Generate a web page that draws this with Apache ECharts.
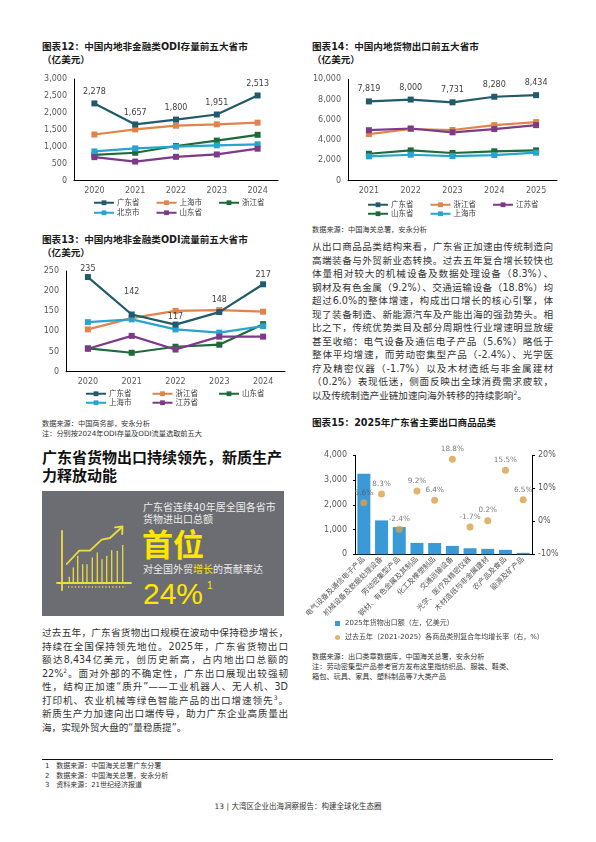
<!DOCTYPE html>
<html><head><meta charset="utf-8">
<script src="https://cdn.jsdelivr.net/npm/echarts@6.0.0/dist/echarts.min.js"></script>
<style>
html,body{margin:0;padding:0;background:#fff;}
body{width:596px;height:842px;position:relative;overflow:hidden;font-family:"DejaVu Sans","Noto Sans CJK SC",sans-serif;color:#333;}
.abs{position:absolute;}
.ttl{position:absolute;font-family:"DejaVu Sans","Noto Sans CJK SC",sans-serif;font-size:9.6px;line-height:12.5px;font-weight:bold;color:#1a1a1a;white-space:nowrap;}
.src{position:absolute;font-size:7.2px;line-height:9.8px;color:#333;white-space:nowrap;}
.para{position:absolute;font-size:9.6px;line-height:13.5px;color:#333;}
.para div{white-space:nowrap;text-align:justify;text-align-last:justify;}
.para div.last{text-align:left;text-align-last:left;}
sup{font-size:6px;line-height:0;vertical-align:4px;}
.chart{position:absolute;}
</style></head><body>

<div class="ttl" style="left:42px;top:41px;">图表12：中国内地非金融类ODI存量前五大省市<br>（亿美元）</div>
<div class="chart" id="c12" style="left:30px;top:70px;width:265px;height:155px;"></div>

<div class="ttl" style="left:42px;top:234px;">图表13：中国内地非金融类ODI流量前五大省市<br>（亿美元）</div>
<div class="chart" id="c13" style="left:30px;top:262px;width:265px;height:150px;"></div>
<div class="src" style="left:42px;top:419px;">数据来源：中国商务部，安永分析<br>注：分别按2024年ODI存量及ODI流量选取前五大</div>

<div class="abs" style="left:42px;top:448px;font-size:15px;line-height:18px;font-weight:bold;color:#111;white-space:nowrap;font-family:'Noto Sans CJK SC',sans-serif;">广东省货物出口持续领先，新质生产<br>力释放动能</div>

<div class="abs" style="left:42px;top:491px;width:242px;height:125px;background:#6c6d72;overflow:hidden;">
  <svg width="242" height="125" style="position:absolute;left:0;top:0;">
    <g stroke="#eedc3e" fill="none" stroke-linecap="round">
      <line x1="20" y1="40" x2="20" y2="99" stroke-width="1.8"/>
      <line x1="15" y1="92" x2="89" y2="92" stroke-width="1.8"/>
      <line x1="26" y1="96" x2="84" y2="96" stroke-width="1.6" stroke-dasharray="1.2,2.2" stroke-linecap="butt"/>
      <g stroke-width="1.3">
        <line x1="27.3" y1="92" x2="27.3" y2="86.3"/>
        <line x1="31.3" y1="92" x2="31.3" y2="77"/>
        <line x1="35.7" y1="92" x2="35.7" y2="65.3"/>
        <line x1="40.7" y1="92" x2="40.7" y2="73.7"/>
        <line x1="45" y1="92" x2="45" y2="73.7"/>
        <line x1="50.3" y1="92" x2="50.3" y2="67"/>
        <line x1="55.3" y1="92" x2="55.3" y2="62"/>
        <line x1="60" y1="92" x2="60" y2="68.7"/>
        <line x1="64.7" y1="92" x2="64.7" y2="65.3"/>
        <line x1="69.7" y1="92" x2="69.7" y2="59.7"/>
        <line x1="75.3" y1="92" x2="75.3" y2="60.3"/>
        <line x1="80.7" y1="92" x2="80.7" y2="54.3"/>
      </g>
      <polyline points="24.7,73 37.3,59.7 48,59.7 59.7,48.7 68,47 80,36" stroke-width="1.8" stroke-linejoin="round"/>
      <polyline points="73,36.3 80.5,35.5 80.2,43" stroke-width="1.8" stroke-linejoin="round"/>
    </g>
  </svg>
  <div class="abs" style="left:101px;top:11px;font-size:10px;line-height:12px;color:#ececec;white-space:nowrap;">广东省连续40年居全国各省市<br>货物进出口总额</div>
  <div class="abs" style="left:100px;top:35px;font-size:31px;line-height:34px;color:#ffe600;font-weight:bold;white-space:nowrap;font-family:'Noto Sans CJK SC',sans-serif;">首位</div>
  <div class="abs" style="left:101px;top:73px;font-size:10px;line-height:12px;color:#ececec;white-space:nowrap;">对全国外贸<span style="color:#ffe600">增长</span>的贡献率达</div>
  <div class="abs" style="left:101px;top:88px;font-size:30px;line-height:30px;color:#ffe600;white-space:nowrap;font-family:'Liberation Sans',sans-serif;">24%</div>
  <div class="abs" style="left:165px;top:89px;font-size:10px;line-height:12px;color:#ffe600;white-space:nowrap;font-family:'Liberation Sans',sans-serif;">1</div>
</div>

<div class="para" style="left:42px;top:626px;width:246px;">
<div>过去五年，广东省货物出口规模在波动中保持稳步增长，</div>
<div>持续在全国保持领先地位。2025年，广东省货物出口</div>
<div>额达8,434亿美元，创历史新高，占内地出口总额的</div>
<div>22%<sup>2</sup>。面对外部的不确定性，广东出口展现出较强韧</div>
<div>性，结构正加速“质升”——工业机器人、无人机、3D</div>
<div>打印机、农业机械等绿色智能产品的出口增速领先<sup>3</sup>。</div>
<div>新质生产力加速向出口端传导，助力广东企业高质量出</div>
<div class="last">海，实现外贸大盘的“量稳质提”。</div>
</div>

<div class="ttl" style="left:312px;top:41px;">图表14：中国内地货物出口前五大省市<br>（亿美元）</div>
<div class="chart" id="c14" style="left:300px;top:70px;width:265px;height:155px;"></div>
<div class="src" style="left:312px;top:225px;">数据来源：中国海关总署，安永分析</div>

<div class="para" style="left:312px;top:240px;width:241px;">
<div>从出口商品品类结构来看，广东省正加速由传统制造向</div>
<div>高端装备与外贸新业态转换。过去五年复合增长较快也</div>
<div>体量相对较大的机械设备及数据处理设备（8.3%）、</div>
<div>钢材及有色金属（9.2%）、交通运输设备（18.8%）均</div>
<div>超过6.0%的整体增速，构成出口增长的核心引擎，体</div>
<div>现了装备制造、新能源汽车及产能出海的强劲势头。相</div>
<div>比之下，传统优势类目及部分周期性行业增速明显放缓</div>
<div>甚至收缩：电气设备及通信电子产品（5.6%）略低于</div>
<div>整体平均增速，而劳动密集型产品（-2.4%）、光学医</div>
<div>疗及精密仪器（-1.7%）以及木材造纸与非金属建材</div>
<div>（0.2%）表现低迷，侧面反映出全球消费需求疲软，</div>
<div class="last">以及传统制造产业链加速向海外转移的持续影响<sup>2</sup>。</div>
</div>

<div class="ttl" style="left:312px;top:417px;">图表15：2025年广东省主要出口商品品类</div>
<div class="chart" id="c15" style="left:300px;top:440px;width:275px;height:210px;"></div>
<div class="src" style="left:312px;top:652px;line-height:10px;">数据来源：出口类章数据库，中国海关总署，安永分析<br>注：劳动密集型产品参考官方发布这里指纺织品、服装、鞋类、<br>箱包、玩具、家具、塑料制品等7大类产品</div>

<div class="abs" style="left:42px;top:759px;width:511px;height:0;border-top:1px solid #111;"></div>
<div class="src" style="left:45px;top:762px;line-height:9.7px;font-size:7px;">1&nbsp;&nbsp;&nbsp;数据来源：中国海关总署广东分署<br>2&nbsp;&nbsp;&nbsp;数据来源：中国海关总署，安永分析<br>3&nbsp;&nbsp;&nbsp;资料来源：21世纪经济报道</div>
<div class="src" style="left:0;width:596px;text-align:center;top:802px;font-size:7.5px;">13 | 大湾区企业出海洞察报告：构建全球化生态圈</div>

<script>
// ---------- data ----------
const yearsStock = ['2020','2021','2022','2023','2024'];
const stockGuangdong = [2278, 1657, 1800, 1951, 2513];
const stockShanghai  = [1360, 1510, 1620, 1660, 1710];
const stockZhejiang  = [760, 820, 1020, 1180, 1350];
const stockBeijing   = [860, 950, 1000, 1040, 1070];
const stockShandong  = [690, 560, 700, 770, 940];

const yearsFlow = ['2020','2021','2022','2023','2024'];
const flowGuangdong = [235, 142, 117, 148, 217];
const flowZhejiang  = [105, 133, 151, 153, 149];
const flowShandong  = [58, 47, 62, 67, 118];
const flowShanghai  = [123, 130, 105, 97, 113];
const flowJiangsu   = [57, 89, 55, 87, 87];

const yearsExport = ['2021','2022','2023','2024','2025'];
const expGuangdong = [7819, 8000, 7731, 8280, 8434];
const expZhejiang  = [4600, 5100, 5000, 5480, 5780];
const expJiangsu   = [4980, 5150, 4770, 5090, 5480];
const expShandong  = [2660, 2990, 2730, 2900, 2990];
const expShanghai  = [2400, 2560, 2430, 2530, 2760];

const productCats = ['电气设备及通信电子产品','机械设备及数据处理设备','劳动密集型产品','钢材、有色金属及其制品','化工及橡塑制品','交通运输设备','光学、医疗及精密仪器','木材造纸与非金属建材','农产品及食品','能源及矿产品'];
const productExport2025 = [3250, 1370, 1100, 460, 455, 340, 245, 220, 180, 60];
const productCagr = [5.6, 8.3, -2.4, 9.2, 6.4, 18.8, -1.7, 0.2, 15.5, 6.5];

const ticksStock = {min:0, max:3000, interval:500};
const ticksFlow = {min:0, max:250, interval:50};
const ticksExport = {min:0, max:10000, interval:2000};
const ticksProductLeft = {min:0, max:4000, interval:1000};
const ticksProductRight = {min:-10, max:20, interval:10};

// ---------- styles ----------
const FONT = '"DejaVu Sans","Noto Sans CJK SC",sans-serif';
const AX = '#595959';
const C_GD = '#215a6b', C_OR = '#e0844c', C_GR = '#1f6a3b', C_CY = '#27a5cf', C_PU = '#7c3a88';
const fmt = v => Number(v).toLocaleString('en-US');

function lineOption(cfg){
  return {
    animation:false,
    textStyle:{fontFamily:FONT},
    grid:cfg.grid,
    legend: cfg.legends.map(l => ({
      data:l.names, left:l.left, top:l.top, itemGap:l.gap, padding:0,
      itemWidth:20, itemHeight:6,
      textStyle:{fontSize:7.5, color:'#404040', fontFamily:FONT, padding:[0,0,0,-2]}
    })),
    xAxis:{type:'category', data:cfg.cats, boundaryGap:true,
      axisLine:{lineStyle:{color:'#000', width:1}}, axisTick:{show:false},
      axisLabel:{color:AX, fontSize:8, margin:6, fontFamily:FONT}},
    yAxis:{type:'value', min:cfg.ticks.min, max:cfg.ticks.max, interval:cfg.ticks.interval,
      axisLine:{show:true, lineStyle:{color:'#000', width:1}}, axisTick:{show:false},
      splitLine:{show:false},
      axisLabel:{color:AX, fontSize:8, margin:7, fontFamily:FONT, formatter:fmt}},
    series: cfg.series.map(s => ({
      type:'line', name:s.name, z:s.z || 2,
      data: s.labels && cfg.lift ? s.data.map((v,i)=>({value:v, label:{offset:[0, -(cfg.lift[i]||0)]}})) : s.data,
      symbol:'rect', symbolSize:6,
      itemStyle:{color:s.color}, lineStyle:{color:s.color, width:2.2},
      label:{show:!!s.labels, position:'top', distance:cfg.labelDist, fontSize:8, color:'#404040', fontFamily:FONT,
        formatter:p=>fmt(p.value)}
    }))
  };
}

const c12 = echarts.init(document.getElementById('c12'), null, {renderer:'canvas'});
c12.setOption(lineOption({
  cats:yearsStock, ticks:ticksStock,
  grid:{left:44, top:9, width:204, height:101.5},
  labelDist:5,
  legends:[
    {names:['广东省','上海市','浙江省'], left:63, top:129, gap:16},
    {names:['北京市','山东省'], left:63, top:139, gap:16}
  ],
  series:[
    {name:'广东省', data:stockGuangdong, color:C_GD, labels:true, z:5},
    {name:'上海市', data:stockShanghai, color:C_OR},
    {name:'浙江省', data:stockZhejiang, color:C_GR},
    {name:'北京市', data:stockBeijing, color:C_CY},
    {name:'山东省', data:stockShandong, color:C_PU}
  ]
}));

const c13 = echarts.init(document.getElementById('c13'));
c13.setOption(lineOption({
  cats:yearsFlow, ticks:ticksFlow,
  grid:{left:36, top:9, width:219, height:100.7},
  labelDist:1,
  lift:{1:15, 3:4, 4:1},
  legends:[
    {names:['广东省','浙江省','山东省'], left:55, top:128, gap:20},
    {names:['上海市','江苏省'], left:55, top:137, gap:20}
  ],
  series:[
    {name:'广东省', data:flowGuangdong, color:C_GD, labels:true, z:5},
    {name:'浙江省', data:flowZhejiang, color:C_OR},
    {name:'山东省', data:flowShandong, color:C_GR},
    {name:'上海市', data:flowShanghai, color:C_CY},
    {name:'江苏省', data:flowJiangsu, color:C_PU}
  ]
}));

const c14 = echarts.init(document.getElementById('c14'));
c14.setOption(lineOption({
  cats:yearsExport, ticks:ticksExport,
  grid:{left:48, top:9.3, width:209, height:101.4},
  labelDist:5,
  legends:[
    {names:['广东省','浙江省','江苏省'], left:67, top:131, gap:16},
    {names:['山东省','上海市'], left:67, top:140, gap:16}
  ],
  series:[
    {name:'广东省', data:expGuangdong, color:C_GD, labels:true, z:5},
    {name:'浙江省', data:expZhejiang, color:C_OR},
    {name:'江苏省', data:expJiangsu, color:C_PU},
    {name:'山东省', data:expShandong, color:C_GR},
    {name:'上海市', data:expShanghai, color:C_CY}
  ]
}));

const c15 = echarts.init(document.getElementById('c15'));
const L1 = '2025年货物出口额（左，亿美元）';
const L2 = '过去五年（2021-2025）各商品类别复合年均增长率（右，%）';
c15.setOption({
  animation:false,
  textStyle:{fontFamily:FONT},
  grid:{left:55, top:15.3, width:177, height:99},
  legend:[
    {data:[{name:L1, icon:'rect'}], left:35, top:180, padding:0, itemWidth:5, itemHeight:5,
      textStyle:{fontSize:7, color:'#404040', fontFamily:FONT}},
    {data:[{name:L2, icon:'circle'}], left:35, top:194, padding:0, itemWidth:5, itemHeight:5,
      textStyle:{fontSize:7, color:'#404040', fontFamily:FONT}}
  ],
  xAxis:{type:'category', data:productCats, boundaryGap:true,
    axisLine:{lineStyle:{color:'#000', width:1}}, axisTick:{show:false},
    axisLabel:{rotate:45, interval:0, fontSize:7.3, color:AX, margin:4, fontFamily:FONT}},
  yAxis:[
    {type:'value', position:'left', min:ticksProductLeft.min, max:ticksProductLeft.max, interval:ticksProductLeft.interval,
      axisLine:{show:true, lineStyle:{color:'#000'}}, axisTick:{show:true, length:2, lineStyle:{color:'#000'}},
      splitLine:{show:false}, axisLabel:{color:AX, fontSize:8, margin:8, fontFamily:FONT, formatter:fmt}},
    {type:'value', position:'right', min:ticksProductRight.min, max:ticksProductRight.max, interval:ticksProductRight.interval,
      axisLine:{show:true, lineStyle:{color:'#000'}}, axisTick:{show:true, length:3, lineStyle:{color:'#000'}},
      splitLine:{show:false}, axisLabel:{color:AX, fontSize:8, margin:6, fontFamily:FONT, formatter:v=>v+'%'}}
  ],
  series:[
    {type:'bar', name:L1, data:productExport2025, barWidth:13, itemStyle:{color:'#3a9ad8'}},
    {type:'scatter', name:L2, yAxisIndex:1, data:productCagr, symbolSize:7,
      itemStyle:{color:'#d9a048'},
      label:{show:true, position:'top', distance:3, fontSize:7.3, color:'#595959', fontFamily:FONT,
        formatter:p=>p.value+'%'}}
  ]
});
</script>
</body></html>
